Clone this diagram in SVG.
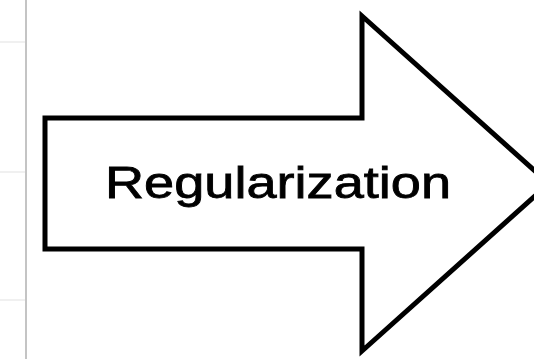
<svg xmlns="http://www.w3.org/2000/svg" width="534" height="359" viewBox="0 0 534 359">
<style>
.bg{fill:#ffffff}
.grid{stroke:#f0f0f0;stroke-width:2;fill:none}
.vline{stroke:#c4c4c4;stroke-width:2;fill:none}
.arrow{fill:#ffffff;stroke:#000000;stroke-width:5;stroke-linejoin:miter}
.label{font-family:"Liberation Sans",Arial,Helvetica,sans-serif;font-size:45px;fill:#000000;stroke:#000000;stroke-width:0.8}
</style>
<rect class="bg" x="0" y="0" width="534" height="359"/>
<g id="background">
<line class="grid" x1="0" y1="42" x2="25" y2="42"/>
<line class="grid" x1="0" y1="172" x2="25" y2="172"/>
<line class="grid" x1="0" y1="300" x2="25" y2="300"/>
<line class="vline" x1="26" y1="0" x2="26" y2="359"/>
</g>
<g id="regularization">
<polygon class="arrow" points="45,118 362,118 362,16 549,183.5 362,351 362,249 45,249"/>
<text class="label" x="278" y="198" text-anchor="middle" textLength="346" lengthAdjust="spacingAndGlyphs">Regularization</text>
</g>
<g id="connectors"></g>
</svg>
